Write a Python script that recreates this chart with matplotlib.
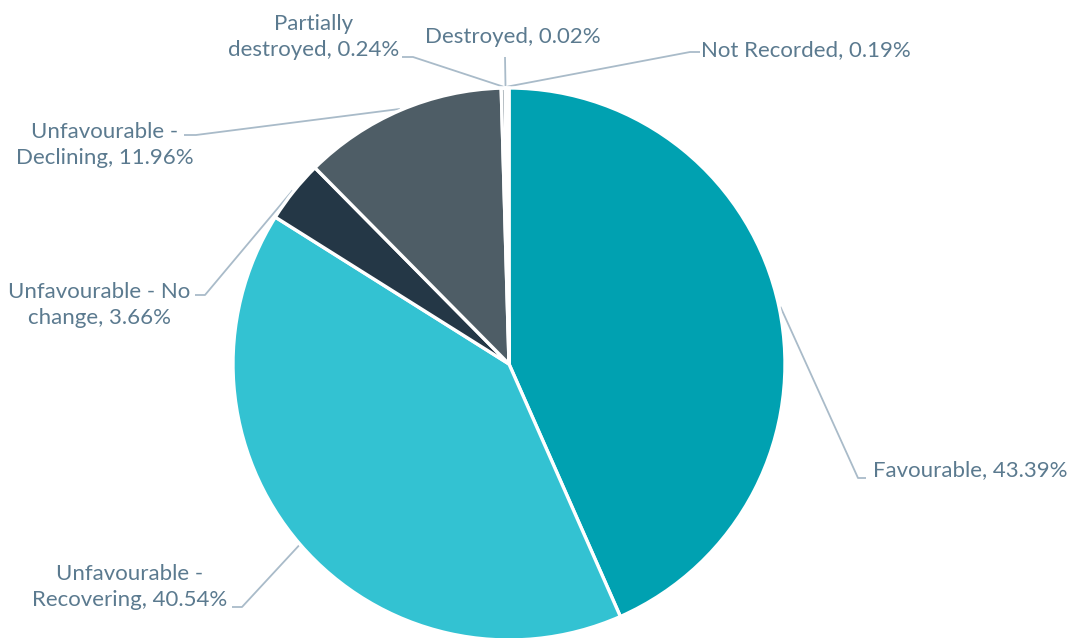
import numpy as np
import matplotlib
matplotlib.use("Agg")
import matplotlib.pyplot as plt

# Condition status shares (%)
categories = ["Favourable", "Unfavourable - Recovering", "Unfavourable - No change",
              "Unfavourable - Declining", "Partially destroyed", "Destroyed", "Not Recorded"]
values = [43.39, 40.54, 3.66, 11.96, 0.24, 0.02, 0.19]
label_texts = ["Favourable, 43.39%",
               "Unfavourable -\nRecovering, 40.54%",
               "Unfavourable - No\nchange, 3.66%",
               "Unfavourable -\nDeclining, 11.96%",
               "Partially\ndestroyed, 0.24%",
               "Destroyed, 0.02%",
               "Not Recorded, 0.19%"]
colors = ["#00A1B1", "#33C2D2", "#243746", "#4E5D66", "#7D8B94", "#A0AAB1", "#C3CCD1"]

W, H, DPI = 1071, 638, 100
CX, CY, R = 509, 364, 276  # pie centre / radius in pixels

def px(x, y):
    """Pixel position (origin top-left) to data units (pie radius = 1)."""
    return (x - CX) / R, (CY - y) / R

fig = plt.figure(figsize=(W / DPI, H / DPI), dpi=DPI)
ax = fig.add_axes([0, 0, 1, 1])

wedges, _ = ax.pie(values, colors=colors, startangle=90, counterclock=False,
                   radius=1.0, wedgeprops=dict(edgecolor="white", linewidth=2.4))

ax.set_aspect("auto")
ax.set_xlim(px(0, 0)[0], px(W, 0)[0])
ax.set_ylim(px(0, H)[1], px(0, 0)[1])
ax.axis("off")

text_color = "#5B7A8F"
line_color = "#A9BBC9"
font = dict(family=["Lato", "DejaVu Sans"], size=16, color=text_color)

# label centre, leader start, elbow (pixels)
layout = [
    ((970, 470), (866, 478), (858, 478)),
    ((130, 587), (232, 607), (242, 607)),
    ((99, 305), (195, 295), (205, 295)),
    ((105, 145), (184, 135), (196, 135)),
    ((314, 37), (402, 57), (413, 57)),
    ((513, 37), (505, 57), (505, 57)),
    ((806, 50), (700, 52), (690, 52)),
]

for w, txt, (tc, start, elbow) in zip(wedges, label_texts, layout):
    mid = np.deg2rad((w.theta1 + w.theta2) / 2)
    ex, ey = np.cos(mid) * 1.005, np.sin(mid) * 1.005
    tx, ty = px(*tc)
    ax.text(tx, ty, txt, ha="center", va="center", multialignment="center",
            linespacing=1.32, **font)
    sx, sy = px(*start)
    bx, by = px(*elbow)
    ax.plot([sx, bx, ex], [sy, by, ey], color=line_color, lw=1.3,
            solid_capstyle="butt", zorder=0.5)

fig.savefig("out.png", dpi=DPI, facecolor="white")
